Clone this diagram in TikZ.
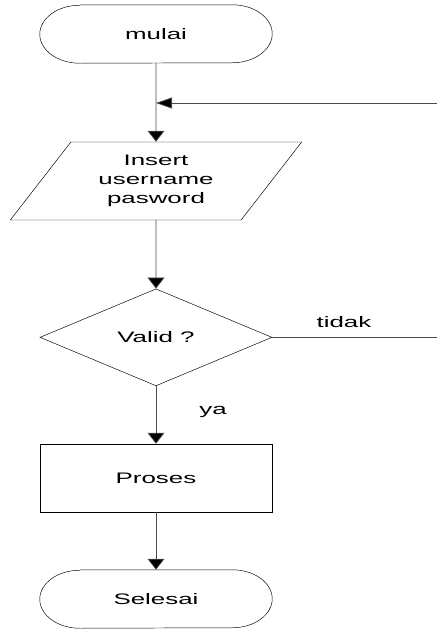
\documentclass[tikz,border=0pt]{standalone}
\usepackage{fontspec}
\usetikzlibrary{shapes.geometric,arrows.meta}
\newfontfamily\flowfont{Liberation Sans}[FakeStretch=1.7]

\begin{document}
\begin{tikzpicture}[
	box/.style={draw, minimum width=6.96cm, font=\flowfont\fontsize{13}{16}\selectfont, align=center},
	terminal/.style={box, draw=none, minimum height=1.74cm},
	inputbox/.style={box, trapezium, trapezium left angle=53.4, trapezium right angle=126.6, trapezium stretches=true, minimum width=8.76cm, minimum height=2.34cm},
	decision/.style={box, diamond, aspect=2.4, inner sep=0pt, minimum height=2.91cm},
	process/.style={box, minimum height=2.04cm},
	lbl/.style={font=\flowfont\fontsize{13}{16}\selectfont},
	wire/.style={draw=black!70, line width=0.65pt},
	flow/.style={wire, -{Triangle[width=0.51cm,length=0.33cm,fill=black]}},
	sideflow/.style={wire, -{Triangle[width=0.33cm,length=0.48cm,fill=black]}}
]
	\useasboundingbox (0,0) rectangle (13.11,-18.87);
	\node[terminal] (mulai) at (4.68,-1.02) {mulai};
	\node[inputbox] (insert) at (4.68,-5.43) {Insert\\username\\pasword};
	\node[decision] (valid) at (4.68,-10.12) {Valid ?};
	\node[process] (proses) at (4.68,-14.34) {Proses};
	\node[terminal] (selesai) at (4.68,-17.97) {Selesai};
	\foreach \t in {mulai,selesai}
		\draw ([xshift=1.2cm]\t.north west) -- ([xshift=-1.2cm]\t.north east)
			arc[start angle=90, end angle=-90, x radius=1.2cm, y radius=0.87cm]
			-- ([xshift=1.2cm]\t.south west)
			arc[start angle=270, end angle=90, x radius=1.2cm, y radius=0.87cm];
	\coordinate (join) at (4.68,-3.09);
	\coordinate (back) at (13.11,-3.09);
	\coordinate (tidakend) at (13.11,-10.12);
	\draw[flow] (mulai) -- (insert);
	\draw[sideflow] (back) -- (join);
	\draw[flow] (insert) -- (valid);
	\draw[wire] (valid) -- (tidakend);
	\draw[flow] (valid) -- (proses);
	\draw[flow] (proses) -- (selesai);
	\node[lbl] (tidak) at (10.32,-9.66) {tidak};
	\node[lbl] (ya) at (6.39,-12.36) {ya};
\end{tikzpicture}
\end{document}
